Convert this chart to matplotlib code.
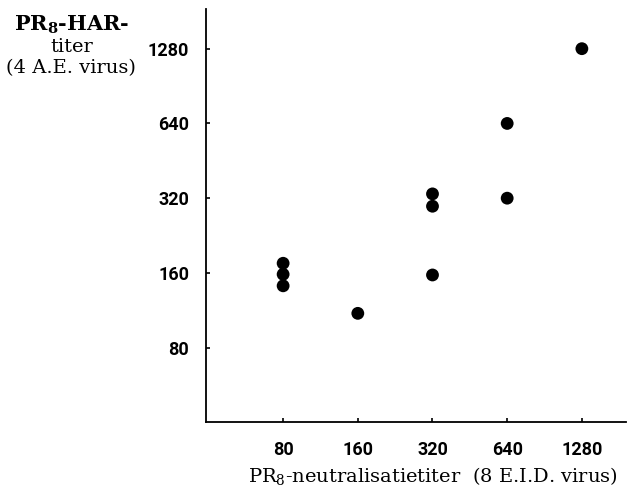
import numpy as np
import matplotlib
matplotlib.use("Agg")
import matplotlib.pyplot as plt

# neutralisation titer (x) vs HAR titer (y)
neut_titer = [80, 80, 80, 160, 320, 320, 320, 640, 640, 1280]
har_titer = [175, 158, 142, 110, 333, 297, 157, 640, 320, 1280]
ticks = [80, 160, 320, 640, 1280]

plt.rcParams['mathtext.fontset'] = 'dejavuserif'

fig = plt.figure(figsize=(6.28, 4.88), dpi=100)
ax = fig.add_axes([0.328, 0.136, 0.669, 0.846])

ax.scatter(neut_titer, har_titer, s=85, color='black', edgecolors='none', zorder=3)

ax.set_xscale('log', base=2)
ax.set_yscale('log', base=2)
ax.set_xlim(39.1, 1930)
ax.set_ylim(40.3, 1853)
ax.set_xticks(ticks)
ax.set_yticks(ticks)
ax.minorticks_off()

tick_font = dict(family=['Roboto', 'DejaVu Sans'], size=13, weight='bold')
ax.set_xticklabels([str(t) for t in ticks], **tick_font)
ax.set_yticklabels([str(t) for t in ticks], **tick_font)
ax.tick_params(direction='in', length=3, width=1.2)
ax.tick_params(axis='y', pad=12)
ax.tick_params(axis='x', pad=14)

for side in ['top', 'right']:
    ax.spines[side].set_visible(False)
for side in ['left', 'bottom']:
    ax.spines[side].set_linewidth(1.3)

serif = dict(family='DejaVu Serif', color='black')
fig.text(72 / 628, 1 - 25 / 488, 'PR$_\\mathbf{8}$-HAR-', ha='center', va='center', size=15, weight='bold', **serif)
fig.text(72 / 628, 1 - 47 / 488, 'titer', ha='center', va='center', size=14, **serif)
fig.text(71 / 628, 1 - 68 / 488, '(4 A.E. virus)', ha='center', va='center', size=14, **serif)
fig.text(433 / 628, 1 - 476 / 488, 'PR$_8$-neutralisatietiter  (8 E.I.D. virus)',
         ha='center', va='center', size=14, **serif)

fig.savefig('out.png', dpi=100)
